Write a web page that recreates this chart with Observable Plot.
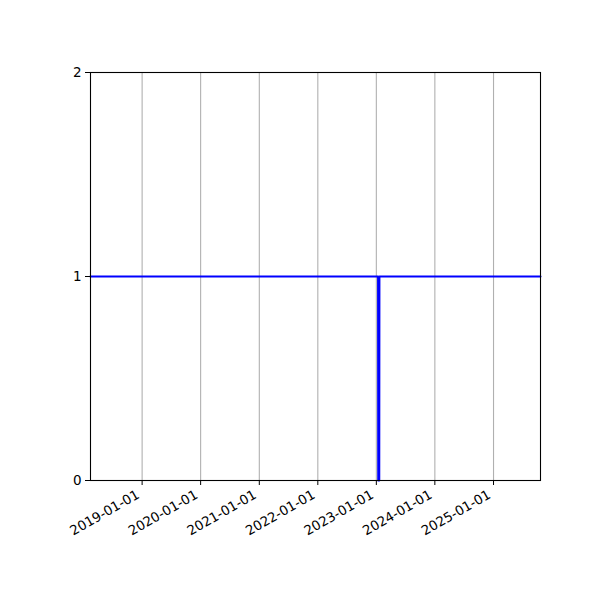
<!DOCTYPE html>
<html>
<head>
<meta charset="utf-8">
<script src="https://cdn.jsdelivr.net/npm/d3@7"></script>
<script src="https://cdn.jsdelivr.net/npm/@observablehq/plot@0.6"></script>
<style>
  html, body { margin: 0; padding: 0; background: #fff; }
  #chart svg { display: block; }
</style>
</head>
<body>
<div id="chart"></div>
<script>
// Series: daily status (1 = up, 0 = down)
const dates = ["2018-02-13", "2023-01-12", "2023-01-13", "2023-01-19", "2023-01-20", "2025-10-21"];
const values = [1, 1, 0, 0, 1, 1];
const xTickLabels = ["2019-01-01", "2020-01-01", "2021-01-01", "2022-01-01", "2023-01-01", "2024-01-01", "2025-01-01"];
const yTicks = [0, 1, 2];
const xDomain = ["2018-02-13", "2025-10-21"];

const parse = d3.utcParse("%Y-%m-%d");
const data = dates.map((d, i) => ({date: parse(d), value: values[i]}));
const xTicks = xTickLabels.map(parse);

const chart = Plot.plot({
  width: 600,
  height: 600,
  marginLeft: 90,
  marginRight: 60,
  marginTop: 72,
  marginBottom: 120,
  style: {fontFamily: "DejaVu Sans", fontSize: "13.5px", color: "black", background: "white"},
  x: {type: "utc", domain: xDomain.map(parse)},
  y: {domain: [0, 2]},
  marks: [
    Plot.ruleX(xTicks, {stroke: "#b0b0b0", strokeWidth: 1.1}),
    Plot.line(data, {x: "date", y: "value", stroke: "blue", strokeWidth: 2.1, curve: "linear"}),
    Plot.frame({stroke: "black", strokeWidth: 1.1}),
    Plot.axisY({ticks: yTicks, tickFormat: d3.format("d"), tickSize: 5, tickPadding: 4, label: null, fontSize: 13.5}),
    Plot.axisX({ticks: xTicks, tickFormat: () => "", tickSize: 5, label: null}),
    Plot.axisX({ticks: xTicks, tickFormat: d3.utcFormat("%Y-%m-%d"), tickSize: 0, tickPadding: 9, tickRotate: -30, label: null, fontSize: 13.3, dx: -4, dy: 4})
  ]
});
document.getElementById("chart").appendChild(chart);
</script>
</body>
</html>
